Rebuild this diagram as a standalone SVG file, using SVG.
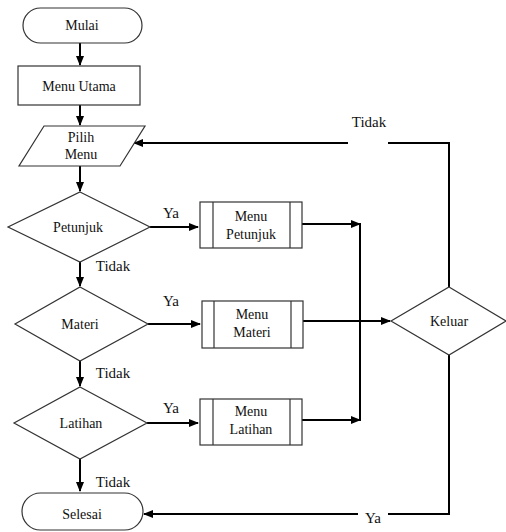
<svg xmlns="http://www.w3.org/2000/svg" width="506" height="532" viewBox="0 0 506 532">
<style>
.n{fill:#fff;stroke:#333;stroke-width:1.2}
text{font-family:'Liberation Serif','Times New Roman','DejaVu Serif',serif;fill:#111;text-anchor:middle}
.t{font-size:14px}
.l{font-size:15px}
.c{fill:none;stroke:#000;stroke-width:2}
</style>
<defs>
<marker id="ah" markerWidth="10" markerHeight="8" refX="9" refY="4" orient="auto" markerUnits="userSpaceOnUse">
<path d="M0,0 L10,4 L0,8 Z" fill="#000"/>
</marker>
</defs>
<rect width="506" height="532" fill="#fff"/>
<g id="connectors">
<line class="c" x1="80" y1="43" x2="80" y2="65" marker-end="url(#ah)"/>
<line class="c" x1="80" y1="105" x2="80" y2="125" marker-end="url(#ah)"/>
<line class="c" x1="80" y1="166" x2="80" y2="191" marker-end="url(#ah)"/>
<line class="c" x1="80" y1="262" x2="80" y2="286" marker-end="url(#ah)"/>
<line class="c" x1="80" y1="361" x2="80" y2="386" marker-end="url(#ah)"/>
<line class="c" x1="80" y1="459" x2="80" y2="491" marker-end="url(#ah)"/>
<line class="c" x1="150" y1="227" x2="198" y2="227" marker-end="url(#ah)"/>
<line class="c" x1="148" y1="324" x2="200" y2="324" marker-end="url(#ah)"/>
<line class="c" x1="147" y1="423" x2="198" y2="423" marker-end="url(#ah)"/>
<line class="c" x1="302" y1="224" x2="360" y2="224" marker-end="url(#ah)"/>
<line class="c" x1="302" y1="420" x2="360" y2="420" marker-end="url(#ah)"/>
<line class="c" x1="360" y1="223" x2="360" y2="421"/>
<line class="c" x1="302" y1="321" x2="390" y2="321" marker-end="url(#ah)"/>
<polyline class="c" points="449,287 449,143 388,143"/>
<line class="c" x1="348" y1="143" x2="134" y2="143" marker-end="url(#ah)"/>
<polyline class="c" points="449,355 449,514 388,514"/>
<line class="c" x1="358" y1="514" x2="144" y2="514" marker-end="url(#ah)"/>
<text class="l" x="113" y="271" font-family="Liberation Serif, serif">Tidak</text>
<text class="l" x="113" y="378" font-family="Liberation Serif, serif">Tidak</text>
<text class="l" x="113" y="487" font-family="Liberation Serif, serif">Tidak</text>
<text class="l" x="171" y="218" font-family="Liberation Serif, serif">Ya</text>
<text class="l" x="171" y="306" font-family="Liberation Serif, serif">Ya</text>
<text class="l" x="171" y="413" font-family="Liberation Serif, serif">Ya</text>
<text class="l" x="369" y="127" font-family="Liberation Serif, serif">Tidak</text>
<text class="l" x="373" y="523" font-family="Liberation Serif, serif">Ya</text>
</g>
<g id="mulai">
<rect class="n" x="23" y="8" width="119" height="35" rx="17.5"/>
<text class="t" x="82" y="30" font-family="Liberation Serif, serif">Mulai</text>
</g>
<g id="menu-utama">
<rect class="n" x="18" y="66" width="122" height="39"/>
<text class="t" x="79" y="91" font-family="Liberation Serif, serif">Menu Utama</text>
</g>
<g id="pilih-menu">
<polygon class="n" points="44,126 145,126 120,166 19,166"/>
<text class="t" x="81" y="142" font-family="Liberation Serif, serif">Pilih</text>
<text class="t" x="81" y="159" font-family="Liberation Serif, serif">Menu</text>
</g>
<g id="petunjuk">
<polygon class="n" points="80,192 150,227 80,262 8,227"/>
<text class="t" x="78" y="232" font-family="Liberation Serif, serif">Petunjuk</text>
</g>
<g id="materi">
<polygon class="n" points="80,287 148,324 80,361 15,324"/>
<text class="t" x="80" y="329" font-family="Liberation Serif, serif">Materi</text>
</g>
<g id="latihan">
<polygon class="n" points="80,387 147,423 80,459 14,423"/>
<text class="t" x="81" y="428" font-family="Liberation Serif, serif">Latihan</text>
</g>
<g id="menu-petunjuk">
<rect class="n" x="200" y="202" width="102" height="46"/>
<line class="n" x1="213" y1="202" x2="213" y2="248"/>
<line class="n" x1="290" y1="202" x2="290" y2="248"/>
<text class="t" x="251" y="221" font-family="Liberation Serif, serif">Menu</text>
<text class="t" x="251" y="239" font-family="Liberation Serif, serif">Petunjuk</text>
</g>
<g id="menu-materi">
<rect class="n" x="202" y="301" width="101" height="47"/>
<line class="n" x1="214" y1="301" x2="214" y2="348"/>
<line class="n" x1="291" y1="301" x2="291" y2="348"/>
<text class="t" x="252" y="319" font-family="Liberation Serif, serif">Menu</text>
<text class="t" x="252" y="337" font-family="Liberation Serif, serif">Materi</text>
</g>
<g id="menu-latihan">
<rect class="n" x="200" y="399" width="102" height="46"/>
<line class="n" x1="213" y1="399" x2="213" y2="445"/>
<line class="n" x1="290" y1="399" x2="290" y2="445"/>
<text class="t" x="251" y="416" font-family="Liberation Serif, serif">Menu</text>
<text class="t" x="251" y="434" font-family="Liberation Serif, serif">Latihan</text>
</g>
<g id="keluar">
<polygon class="n" points="449,287 506,321 449,355 391,321"/>
<text class="t" x="449" y="326" font-family="Liberation Serif, serif">Keluar</text>
</g>
<g id="selesai">
<rect class="n" x="22" y="493" width="121" height="37" rx="18.5"/>
<text class="t" x="82" y="519" font-family="Liberation Serif, serif">Selesai</text>
</g>
</svg>
